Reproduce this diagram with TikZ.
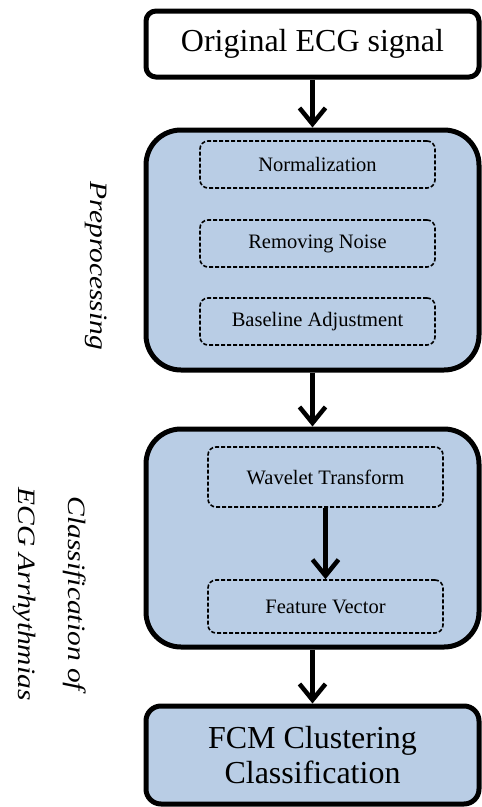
\documentclass[tikz,border=0pt]{standalone}
\usepackage{fontspec}
\setmainfont{Liberation Serif}
\newfontfamily\labelfont[FakeStretch=1.18]{Liberation Serif}
\usetikzlibrary{arrows.meta}
\definecolor{boxblue}{HTML}{B9CDE5}
\tikzset{
  mainbox/.style={draw=black, line width=5pt, rectangle, minimum width=333pt, inner sep=0pt, align=center},
  subbox/.style={draw=black, dash pattern=on 4pt off 2pt, line width=1.6pt, rounded corners=8pt, rectangle, minimum width=235pt, inner sep=0pt, font=\fontsize{20.5}{24}\selectfont},
  flowarrow/.style={line width=4.5pt, -{Straight Barb[length=16pt,width=26pt,line width=4.5pt]}},
  sidelabel/.style={rotate=-90, font=\labelfont\itshape\fontsize{25}{50}\selectfont, align=center, inner sep=0pt}
}
\begin{document}
\begin{tikzpicture}[x=1pt,y=-1pt]
\useasboundingbox (0,0) rectangle (482,807);
\node[mainbox, fill=white, rounded corners=10pt, minimum height=66pt, font=\fontsize{32}{35}\selectfont] (orig) at (312.5,44) {Original ECG signal};
\node[mainbox, fill=boxblue, rounded corners=35pt, minimum height=240pt] (pre) at (312.5,250) {};
\node[mainbox, fill=boxblue, rounded corners=35pt, minimum height=218pt] (cls) at (312.5,538) {};
\node[mainbox, fill=boxblue, rounded corners=15pt, minimum height=98pt, font=\fontsize{32}{35}\selectfont] (fcm) at (312.5,755) {FCM Clustering\\Classification};
\node[subbox, minimum height=47pt] (norm) at (317.5,164.5) {Normalization};
\node[subbox, minimum height=47pt] (noise) at (317.5,243.5) {Removing Noise};
\node[subbox, minimum height=47pt] (base) at (317.5,321.5) {Baseline Adjustment};
\node[subbox, minimum height=60pt] (wave) at (325.5,477) {Wavelet Transform};
\node[subbox, minimum height=53pt] (feat) at (325.5,606.5) {Feature Vector};
\node[sidelabel] (prelab) at (96,266) {Preprocessing};
\node[sidelabel] (clslab) at (50,594) {Classification of\\ECG Arrhythmias};
\draw[flowarrow] (orig.south) -- (pre.north);
\draw[flowarrow] (pre.south) -- (cls.north);
\draw[flowarrow] (cls.south) -- (fcm.north);
\draw[flowarrow] (wave.south) -- (feat.north);
\end{tikzpicture}
\end{document}
